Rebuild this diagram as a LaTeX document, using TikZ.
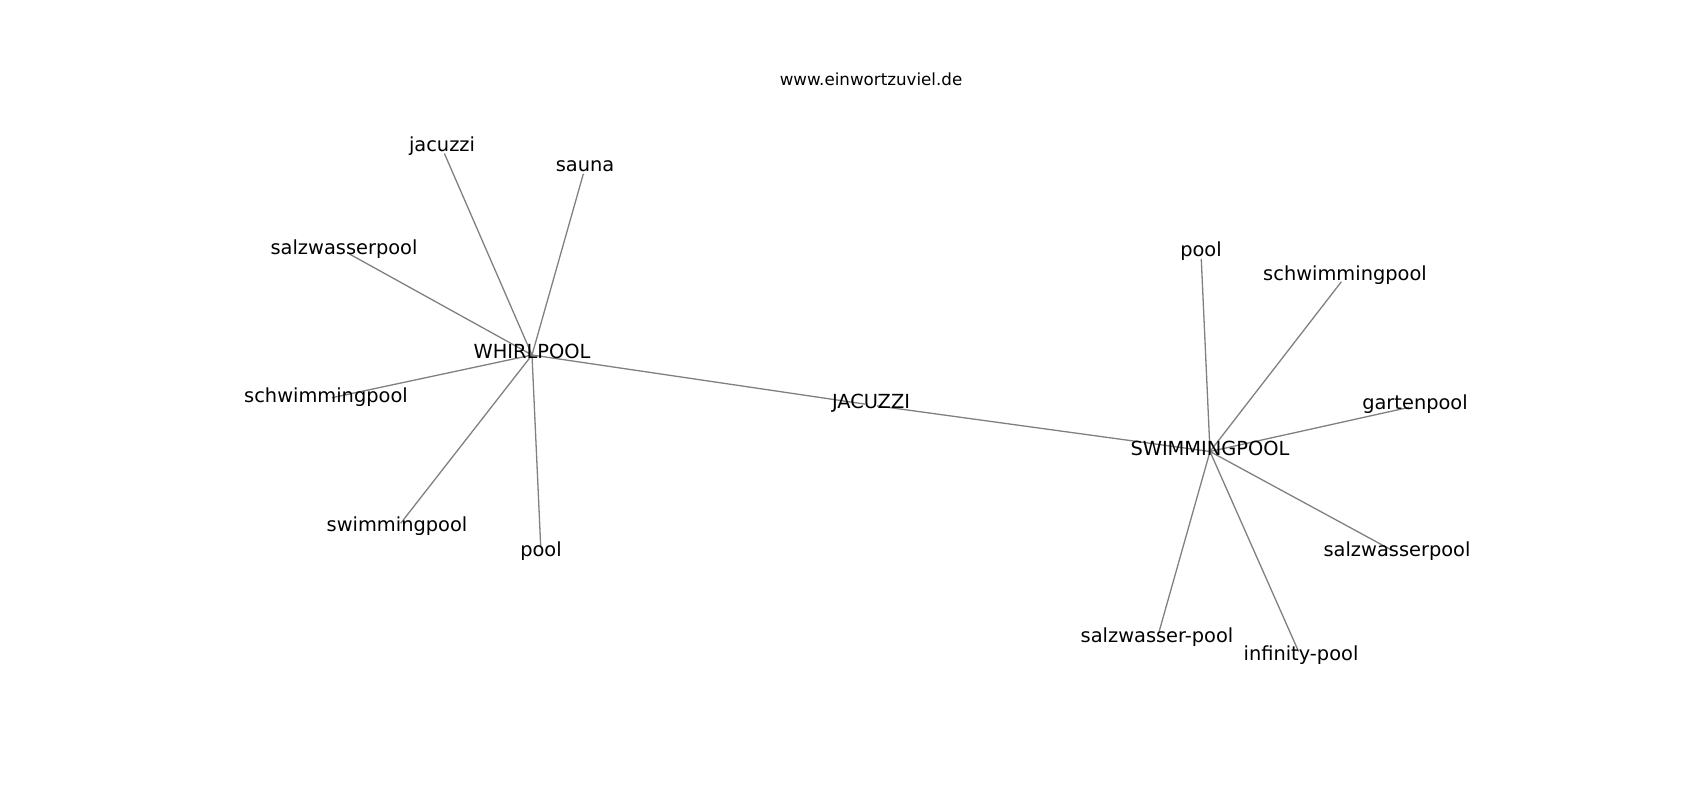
\documentclass[tikz,border=0pt]{standalone}
\usepackage{fontspec}
\setmainfont{DejaVu Sans}
\usetikzlibrary{backgrounds}
\tikzset{
  lbl/.style={inner sep=0pt, text height=0.9em, text depth=0.2em, font=\fontsize{19.4}{23}\selectfont},
  ttl/.style={inner sep=0pt, text height=1.0em, text depth=0.16em, font=\fontsize{16.7}{20}\selectfont},
  edge/.style={draw=gray, line width=1.3pt, shorten >=6pt}
}
\begin{document}
\begin{tikzpicture}[x=1pt,y=-1pt]
\useasboundingbox (0,0) rectangle (1700,800);
\node[ttl] (title) at (871,81) {www.einwortzuviel.de};
\node[lbl] (W) at (532,355) {WHIRLPOOL};
\node[lbl] (J) at (871,405) {JACUZZI};
\node[lbl] (S) at (1210,451.5) {SWIMMINGPOOL};
\node[lbl] (wjac) at (442,148) {jacuzzi};
\node[lbl] (wsau) at (585,168) {sauna};
\node[lbl] (wsalz) at (344,251) {salzwasserpool};
\node[lbl] (wschw) at (326,399) {schwimmingpool};
\node[lbl] (wswim) at (397,528) {swimmingpool};
\node[lbl] (wpool) at (541,553) {pool};
\node[lbl] (spool) at (1201,253) {pool};
\node[lbl] (sschw) at (1345,277) {schwimmingpool};
\node[lbl] (sgart) at (1415,406) {gartenpool};
\node[lbl] (ssalz) at (1397,553) {salzwasserpool};
\node[lbl] (ssalzb) at (1157,639) {salzwasser-pool};
\node[lbl] (sinf) at (1301,657) {infinity-pool};
\begin{scope}[on background layer]
\foreach \n in {wjac,wsau,wsalz,wschw,wswim,wpool,J}
  \draw[edge] (W.center) -- (\n.center);
\draw[edge] (S.center) -- (J.center);
\foreach \n in {spool,sschw,sgart,ssalz,ssalzb,sinf}
  \draw[edge] (S.center) -- (\n.center);
\end{scope}
\end{tikzpicture}
\end{document}
